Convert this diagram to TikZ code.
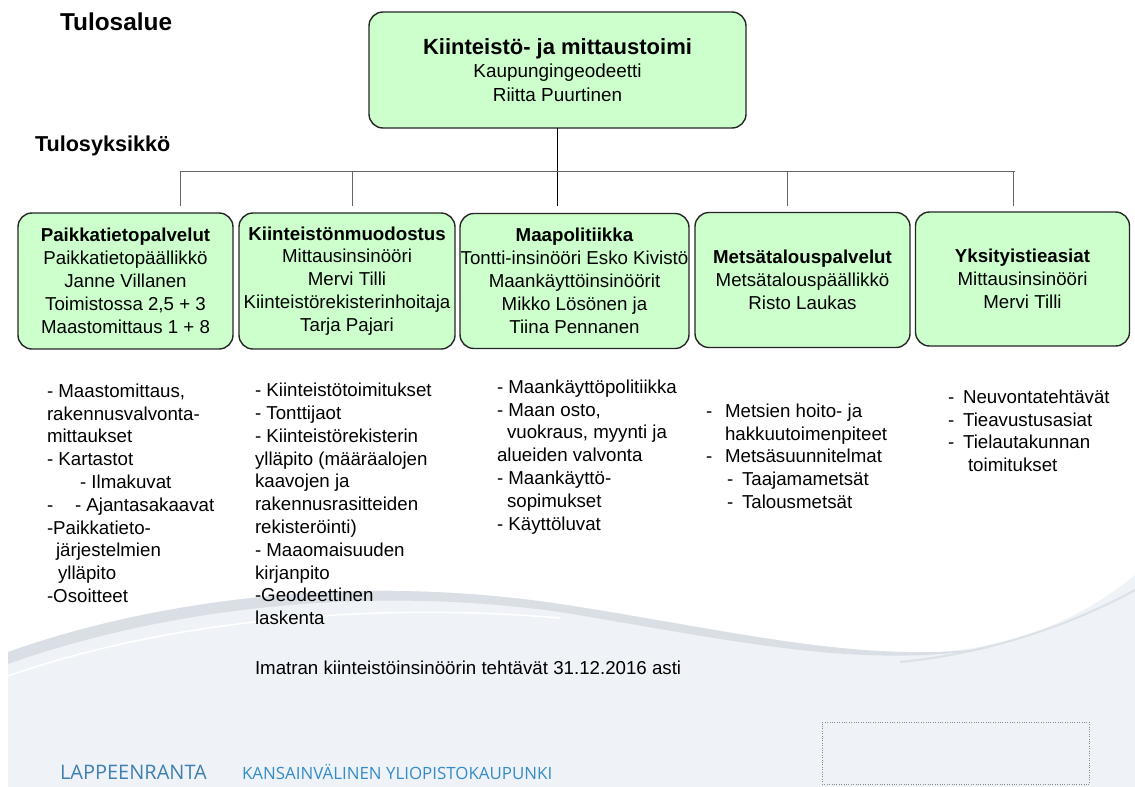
\documentclass[tikz,border=0pt]{standalone}
\usepackage{fontspec}
\setmainfont{Liberation Sans}
\newfontfamily\footfont{Open Sans}
\usetikzlibrary{positioning,calc}
\definecolor{boxgreen}{RGB}{204,255,204}
\definecolor{slidebg}{RGB}{239,243,247}
\definecolor{swoosh}{RGB}{212,218,224}
\definecolor{lutblue}{RGB}{62,128,178}
\definecolor{lutlight}{RGB}{52,140,200}

\begin{document}
\begin{tikzpicture}[x=1pt,y=-1pt]
    \tikzstyle{every node}=[inner sep=0,outer sep=0]
    \tikzstyle{unit}=[draw=black!85,line width=1.4,fill=boxgreen,rounded corners=14,align=center,font=\fontsize{18.7}{22.9}\selectfont]
    \tikzstyle{item}=[anchor=base west,font=\fontsize{18.7}{22.9}\selectfont]
    \tikzstyle{bar}=[draw=black!60,line width=1]
    \useasboundingbox (0,0) rectangle (1135,787);
    \fill[white] (0,0) rectangle (1135,787);
    \fill[slidebg] (8,787) -- (8,652) .. controls (160,598) and (360,574) .. (560,604) .. controls (730,630) and (860,664) .. (960,650) .. controls (1050,637) and (1105,600) .. (1135,575) -- (1135,787) -- cycle;
    \fill[swoosh,opacity=.8] (8,652) .. controls (160,598) and (360,574) .. (560,604) .. controls (730,630) and (860,664) .. (990,648)
        .. controls (860,670) and (730,640) .. (560,612) .. controls (360,584) and (160,610) .. (8,664) -- cycle;
    \draw[white,line width=1.5] (8,676) .. controls (150,626) and (350,600) .. (560,618);
    \draw[swoosh,line width=2,opacity=.7] (900,662) .. controls (1000,652) and (1080,620) .. (1135,590);
    {
        \node[anchor=base west,font=\fontsize{24.4}{26}\selectfont\bfseries] (area) at (60,30) {Tulosalue};
        \node[anchor=base west,font=\fontsize{21.6}{23}\selectfont\bfseries] (unitlabel) at (35,151) {Tulosyksikkö};

        \node[unit,minimum width=377,minimum height=116,font=\fontsize{18.9}{23.5}\selectfont] (head) at (557.5,70)
            {{\fontsize{22}{23.5}\selectfont\bfseries Kiinteistö- ja mittaustoimi}\\ Kaupungingeodeetti\\ Riitta Puurtinen};

        \node[unit,minimum width=215,minimum height=136] (paikka) at (125.5,281)
            {\textbf{Paikkatietopalvelut}\\ Paikkatietopäällikkö\\ Janne Villanen\\ Toimistossa 2,5 + 3\\ Maastomittaus 1 + 8};
        \node[unit,minimum width=216,minimum height=136] (kiint) at (347,281)
            {\textbf{Kiinteistönmuodostus}\\ Mittausinsinööri\\ Mervi Tilli\\ Kiinteistörekisterinhoitaja\\ Tarja Pajari};
        \node[unit,minimum width=229,minimum height=135] (maapol) at (574.5,281)
            {\textbf{Maapolitiikka}\\ Tontti-insinööri Esko Kivistö\\ Maankäyttöinsinöörit\\ Mikko Lösönen ja\\ Tiina Pennanen};
        \node[unit,minimum width=215,minimum height=135] (metsa) at (802.5,280)
            {\textbf{Metsätalouspalvelut}\\ Metsätalouspäällikkö\\ Risto Laukas};
        \node[unit,minimum width=214,minimum height=134] (tie) at (1022.5,279)
            {\textbf{Yksityistieasiat}\\ Mittausinsinööri\\ Mervi Tilli};

        \coordinate (barL) at (180,171);
        \coordinate (barR) at (1015,171);
        \coordinate (endmaapol) at (557.5,206);
        \draw[line width=1.5] (head.south) -- (endmaapol);
        \draw[bar] (barL) -- (barR);
        \foreach \name/\xx in {paikka/180,kiint/352,metsa/787,tie/1013} {
            \coordinate (top\name) at (\xx,171);
            \coordinate (end\name) at (\xx,206);
            \draw[bar] (top\name) -- (end\name);
        }

        \foreach \dx/\txt [count=\i] in {0/{- Maastomittaus,},0/rakennusvalvonta-,0/mittaukset,0/- Kartastot,33/- Ilmakuvat,
                0/{-\hspace{21.8pt}- Ajantasakaavat},0/-Paikkatieto-,9/järjestelmien,11/ylläpito,0/-Osoitteet}
            \node[item] (paikka\i) at (47+\dx,397.3+22.8*\i-22.8) {\txt};
        \foreach \txt [count=\i] in {- Kiinteistötoimitukset,- Tonttijaot,- Kiinteistörekisterin,ylläpito (määräalojen,kaavojen ja,
                rakennusrasitteiden,rekisteröinti),- Maaomaisuuden,kirjanpito,-Geodeettinen,laskenta}
            \node[item] (kiint\i) at (255,396.7+22.8*\i-22.8) {\txt};
        \foreach \dx/\txt [count=\i] in {0/- Maankäyttöpolitiikka,0/{- Maan osto,},10/{vuokraus, myynti ja},0/alueiden valvonta,
                0/- Maankäyttö-,10/sopimukset,0/- Käyttöluvat}
            \node[item] (maapol\i) at (497+\dx,393.2+22.8*\i-22.8) {\txt};
        \foreach \dx/\txt [count=\i] in {0/{-\hspace{12.8pt}Metsien hoito- ja},19/hakkuutoimenpiteet,0/{-\hspace{12.8pt}Metsäsuunnitelmat},
                21/{-\hspace{8.8pt}Taajamametsät},21/{-\hspace{8.8pt}Talousmetsät}}
            \node[item] (metsa\i) at (706+\dx,417.3+22.8*\i-22.8) {\txt};
        \foreach \dx/\txt [count=\i] in {0/{-\hspace{8.8pt}Neuvontatehtävät},0/{-\hspace{8.8pt}Tieavustusasiat},
                0/{-\hspace{8.8pt}Tielautakunnan},20/toimitukset}
            \node[item] (tie\i) at (948+\dx,403.3+22.8*\i-22.8) {\txt};

        \node[item] (imatra) at (255,674.7) {Imatran kiinteistöinsinöörin tehtävät 31.12.2016 asti};

        \node[anchor=base west,font=\footfont\fontsize{20}{20}\selectfont,text=lutblue] (city) at (60,779) {LAPPEENRANTA};
        \node[anchor=base west,font=\footfont\fontsize{16.9}{18}\selectfont,text=lutlight] (slogan) at (242,779) {KANSAINVÄLINEN YLIOPISTOKAUPUNKI};
        \node[draw=black!45,dotted,minimum width=267,minimum height=62] (logo) at (955.5,753) {};
    }
\end{tikzpicture}
\end{document}
